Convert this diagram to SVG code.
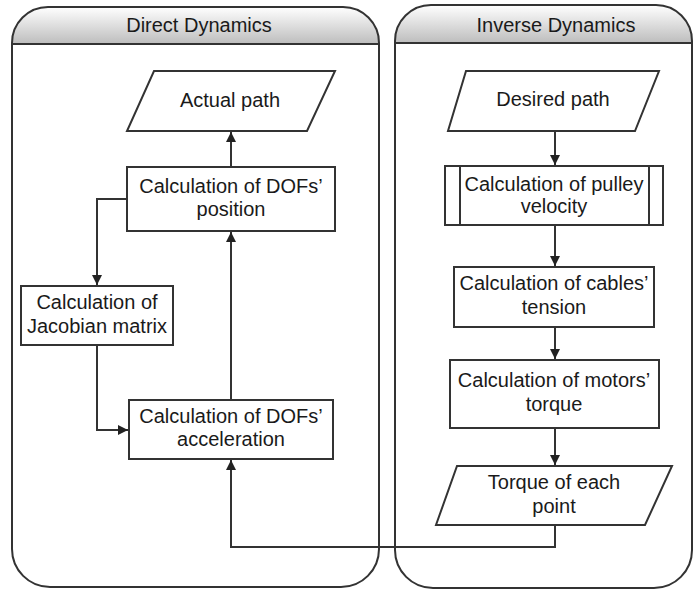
<svg xmlns="http://www.w3.org/2000/svg" width="694" height="589" viewBox="0 0 694 589">
<style>
  .lane{fill:none;stroke:#333;stroke-width:2}
  .hdr{fill:url(#hg)}
  .box{fill:#fff;stroke:#333;stroke-width:2}
  .t{font-family:"Liberation Sans",Arial,sans-serif;font-size:20px;fill:#1a1a1a;text-anchor:middle}
  .c{fill:none;stroke:#333;stroke-width:2}
</style>
<defs>
  <linearGradient id="hg" x1="0" y1="0" x2="0" y2="1">
    <stop offset="0" stop-color="#ffffff"/>
    <stop offset="1" stop-color="#bdbdbd"/>
  </linearGradient>
  <marker id="ah" markerUnits="userSpaceOnUse" markerWidth="10" markerHeight="10" refX="10" refY="5" orient="auto" viewBox="0 0 10 10">
    <path d="M0,0 L10,5 L0,10 z" fill="#222"/>
  </marker>
</defs>
<rect width="694" height="589" fill="#fff"/>

<g id="lane-direct">
  <path class="hdr" d="M12,44 V43 A36,36 0 0 1 48,7 H343 A36,36 0 0 1 379,43 V44 Z"/>
  <path class="lane" d="M12,43 A36,36 0 0 1 48,7 H343 A36,36 0 0 1 379,43 V549 A38,38 0 0 1 341,587 H50 A38,38 0 0 1 12,549 Z"/>
  <line class="lane" x1="12" y1="44" x2="379" y2="44"/>
  <text class="t" x="199" y="32">Direct Dynamics</text>
</g>

<g id="lane-inverse">
  <path class="hdr" d="M395,43 V41 A36,36 0 0 1 431,5 H656 A36,36 0 0 1 692,41 V43 Z"/>
  <path class="lane" d="M395,41 A36,36 0 0 1 431,5 H656 A36,36 0 0 1 692,41 V550 A38,38 0 0 1 654,588 H433 A38,38 0 0 1 395,550 Z"/>
  <line class="lane" x1="395" y1="43" x2="692" y2="43"/>
  <text class="t" x="556" y="32">Inverse Dynamics</text>
</g>

<g id="connectors">
  <path class="c" d="M231,167 V132" marker-end="url(#ah)"/>
  <path class="c" d="M127,199 H97 V285" marker-end="url(#ah)"/>
  <path class="c" d="M97,345 V430 H128" marker-end="url(#ah)"/>
  <path class="c" d="M231,400 V232" marker-end="url(#ah)"/>
  <path class="c" d="M555,131 V165" marker-end="url(#ah)"/>
  <path class="c" d="M555,225 V266" marker-end="url(#ah)"/>
  <path class="c" d="M555,327 V359" marker-end="url(#ah)"/>
  <path class="c" d="M555,428 V465" marker-end="url(#ah)"/>
  <path class="c" d="M555,525 V547 H231 V460" marker-end="url(#ah)"/>
</g>

<g id="actual-path">
  <polygon class="box" points="154,71 335,71 307,131 127,131"/>
  <text class="t" x="230" y="107">Actual path</text>
</g>

<g id="dof-position">
  <rect class="box" x="127" y="167" width="208" height="64"/>
  <text class="t" x="231" y="193">Calculation of DOFs’</text>
  <text class="t" x="231" y="216">position</text>
</g>

<g id="jacobian">
  <rect class="box" x="21" y="286" width="152" height="59"/>
  <text class="t" x="97" y="309">Calculation of</text>
  <text class="t" x="97" y="333">Jacobian matrix</text>
</g>

<g id="dof-acceleration">
  <rect class="box" x="129" y="400" width="204" height="59"/>
  <text class="t" x="231" y="423">Calculation of DOFs’</text>
  <text class="t" x="231" y="446">acceleration</text>
</g>

<g id="desired-path">
  <polygon class="box" points="466,71 659,71 635,131 448,131"/>
  <text class="t" x="553" y="106">Desired path</text>
</g>

<g id="pulley-velocity">
  <rect class="box" x="445" y="166" width="218" height="59"/>
  <line class="box" x1="460" y1="166" x2="460" y2="225"/>
  <line class="box" x1="649" y1="166" x2="649" y2="225"/>
  <text class="t" x="554" y="191">Calculation of pulley</text>
  <text class="t" x="554" y="213">velocity</text>
</g>

<g id="cables-tension">
  <rect class="box" x="454" y="267" width="200" height="60"/>
  <text class="t" x="554" y="290">Calculation of cables’</text>
  <text class="t" x="554" y="314">tension</text>
</g>

<g id="motors-torque">
  <rect class="box" x="450" y="360" width="209" height="68"/>
  <text class="t" x="554" y="387">Calculation of motors’</text>
  <text class="t" x="554" y="411">torque</text>
</g>

<g id="torque-point">
  <polygon class="box" points="457,466 672,466 645,525 436,525"/>
  <text class="t" x="554" y="489">Torque of each</text>
  <text class="t" x="554" y="513">point</text>
</g>
</svg>
